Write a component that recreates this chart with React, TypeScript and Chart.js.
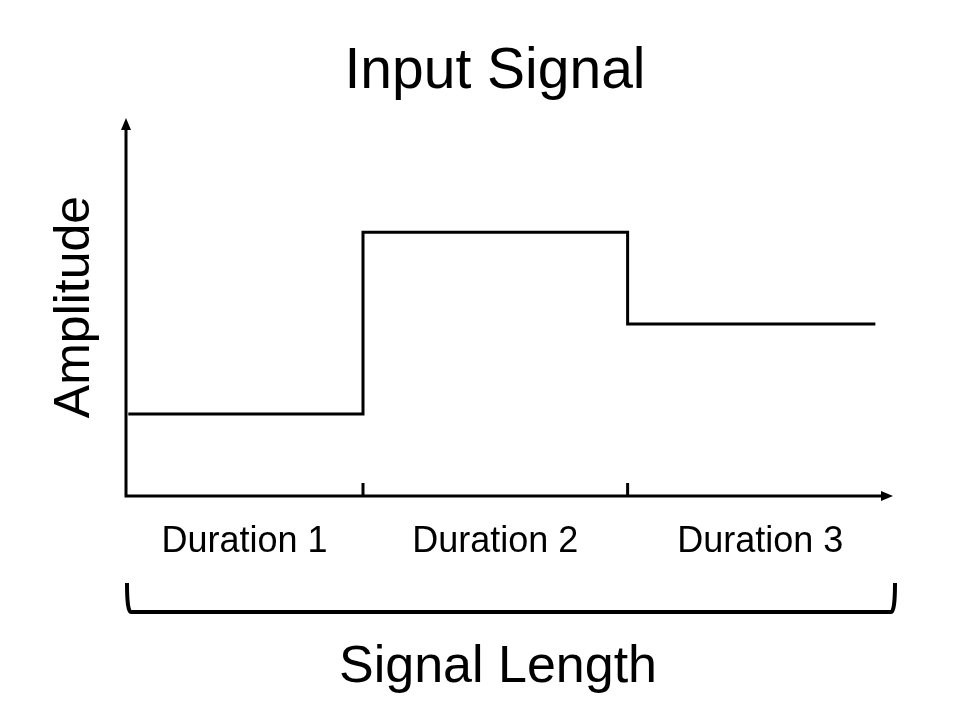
import React, { useEffect, useRef } from "react";
import { Chart, registerables } from "chart.js";

Chart.register(...registerables);

// ---- data ----
const chartTitle = "Input Signal";
const xAxisTitle = "Signal Length";
const yAxisTitle = "Amplitude";
const durationLabels = ["Duration 1", "Duration 2", "Duration 3"];
// segment boundaries along the signal-length axis (axis runs 0..100)
const boundaries = [0.3, 30.9, 65.4, 97.7];
// amplitude level of each duration (axis runs 0..100)
const amplitudes = [21.7, 69.8, 45.5];
const xMax = 100;
const yMax = 100;

const FONT = '"Liberation Sans", Arial, Helvetica, sans-serif';

const decorPlugin = {
  id: "signalDecor",
  beforeDatasetsDraw(chart: any) {
    const { ctx } = chart;
    const x = chart.scales.x;
    const y = chart.scales.y;
    const x0 = x.getPixelForValue(0);
    const x1 = x.getPixelForValue(xMax);
    const y0 = y.getPixelForValue(0);
    const y1 = y.getPixelForValue(yMax);
    ctx.save();
    ctx.strokeStyle = "#000";
    ctx.fillStyle = "#000";
    ctx.lineWidth = 3;
    ctx.lineCap = "butt";
    // axes
    ctx.beginPath();
    ctx.moveTo(x0, y1 + 8);
    ctx.lineTo(x0, y0);
    ctx.lineTo(x1 - 8, y0);
    ctx.stroke();
    // arrow heads
    ctx.beginPath();
    ctx.moveTo(x0, y1);
    ctx.lineTo(x0 - 5, y1 + 12);
    ctx.lineTo(x0 + 5, y1 + 12);
    ctx.closePath();
    ctx.fill();
    ctx.beginPath();
    ctx.moveTo(x1, y0);
    ctx.lineTo(x1 - 12, y0 - 5);
    ctx.lineTo(x1 - 12, y0 + 5);
    ctx.closePath();
    ctx.fill();
    // boundary ticks
    for (let i = 1; i < boundaries.length - 1; i++) {
      const px = x.getPixelForValue(boundaries[i]);
      ctx.beginPath();
      ctx.moveTo(px, y0 - 13);
      ctx.lineTo(px, y0);
      ctx.stroke();
    }
    ctx.restore();
  },
  afterDraw(chart: any) {
    const { ctx } = chart;
    const x = chart.scales.x;
    const x0 = x.getPixelForValue(0);
    const x1 = x.getPixelForValue(xMax);
    ctx.save();
    ctx.fillStyle = "#000";
    ctx.strokeStyle = "#000";
    ctx.textAlign = "center";
    ctx.textBaseline = "alphabetic";
    // title
    ctx.font = `57px ${FONT}`;
    ctx.fillText(chartTitle, 495, 88);
    // duration labels
    ctx.font = `36px ${FONT}`;
    durationLabels.forEach((lab, i) => {
      const a = boundaries[i] < 1 ? 0 : boundaries[i];
      const b = i === durationLabels.length - 1 ? xMax : boundaries[i + 1];
      const cx = x.getPixelForValue((a + b) / 2);
      ctx.fillText(lab, cx, 552);
    });
    // bracket
    ctx.lineWidth = 4;
    ctx.lineJoin = "round";
    ctx.beginPath();
    ctx.moveTo(x0 + 1, 583);
    ctx.quadraticCurveTo(x0 + 1, 612, x0 + 5, 612);
    ctx.lineTo(x1 - 2, 612);
    ctx.quadraticCurveTo(x1 + 2, 612, x1 + 2, 583);
    ctx.stroke();
    // x title
    ctx.font = `52px ${FONT}`;
    ctx.fillText(xAxisTitle, 498, 682);
    // y title
    ctx.translate(89, 307);
    ctx.rotate(-Math.PI / 2);
    ctx.font = `50px ${FONT}`;
    ctx.fillText(yAxisTitle, 0, 0);
    ctx.restore();
  },
};

export default function App() {
  const ref = useRef<HTMLCanvasElement | null>(null);
  useEffect(() => {
    if (!ref.current) return;
    const pts = boundaries.map((b, i) => ({
      x: b,
      y: amplitudes[Math.min(i, amplitudes.length - 1)],
    }));
    const chart = new Chart(ref.current, {
      type: "line",
      data: {
        datasets: [
          {
            data: pts,
            stepped: true,
            borderColor: "#000",
            borderWidth: 3,
            borderJoinStyle: "miter",
            borderCapStyle: "butt",
            pointRadius: 0,
            fill: false,
          } as any,
        ],
      },
      options: {
        responsive: false,
        animation: false,
        devicePixelRatio: 1,
        layout: { padding: { left: 126, right: 67, top: 118, bottom: 224 } },
        plugins: {
          legend: { display: false },
          title: { display: false },
          tooltip: { enabled: false },
        },
        scales: {
          x: { type: "linear", min: 0, max: xMax, display: false },
          y: { type: "linear", min: 0, max: yMax, display: false },
        },
      },
      plugins: [decorPlugin],
    });
    return () => chart.destroy();
  }, []);
  return (
    <div
      style={{
        position: "fixed",
        left: 0,
        top: 0,
        width: 960,
        height: 720,
        background: "#fff",
      }}
    >
      <canvas ref={ref} width={960} height={720} style={{ display: "block" }} />
    </div>
  );
}
